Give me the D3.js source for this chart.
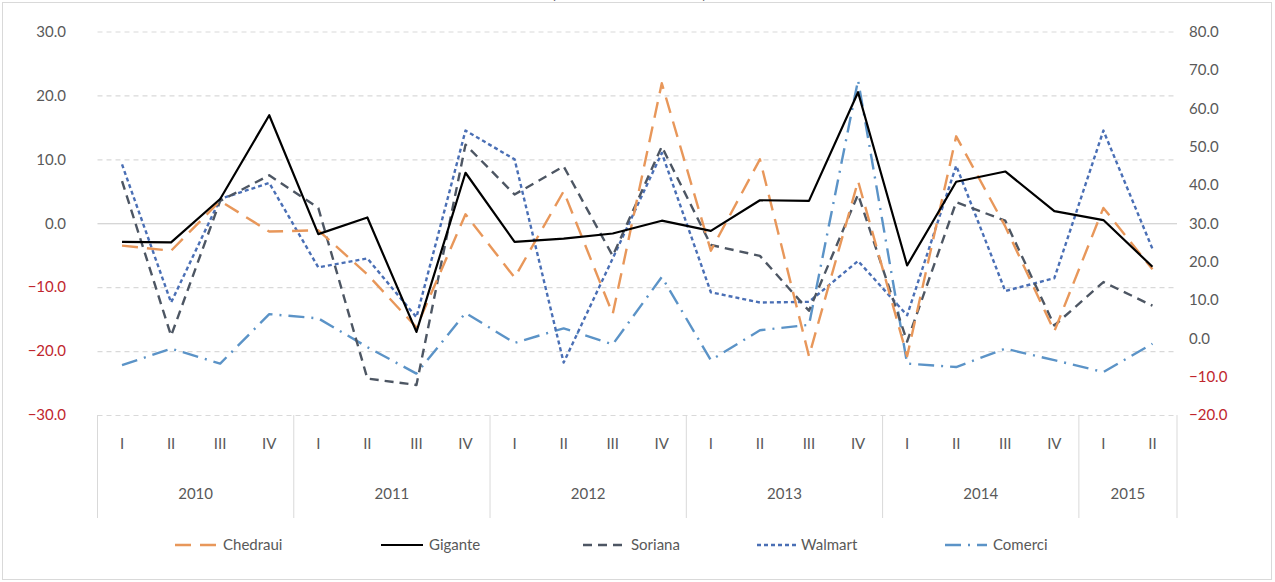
<!DOCTYPE html>
<html>
<head>
<meta charset="utf-8">
<style>
body { margin: 0; background: #fff; }
text { font-family: Lato, "Open Sans", sans-serif; }
</style>
</head>
<body>
<script src="https://cdn.jsdelivr.net/npm/d3@7"></script>
<script>

// data
var years = ["2010", "2011", "2012", "2013", "2014", "2015"];
var quartersPerYear = [4, 4, 4, 4, 4, 2];
var romans = ["I", "II", "III", "IV"];

var chedraui = [-3.5, -4.3, 3.5, -1.3, -1.1, -8.0, -16.3, 1.4, -8.5, 5.0, -14.2, 21.9, -4.3, 10.0, -20.8, 6.6, -20.8, 13.6, -0.5, -16.9, 2.4, -7.2];
var gigante  = [-2.9, -3.0, 3.8, 16.9, -1.7, 0.9, -17.0, 7.9, -2.9, -2.4, -1.6, 0.4, -1.2, 3.6, 3.5, 20.5, -6.6, 6.5, 8.1, 1.9, 0.5, -6.8];
var soriana  = [6.6, -17.6, 3.5, 7.5, 2.4, -24.3, -25.3, 12.3, 4.5, 8.9, -5.1, 12.0, -3.4, -5.1, -13.7, 4.5, -18.5, 3.3, 0.4, -16.0, -9.2, -12.9];
var walmart  = [9.2, -12.4, 3.8, 6.3, -6.9, -5.5, -14.7, 14.5, 10.0, -21.8, -5.5, 11.0, -10.8, -12.4, -12.3, -5.9, -14.4, 9.0, -10.6, -8.6, 14.5, -4.0];
// Comerci is plotted against the right-hand axis
var comerci  = [-7.0, -2.7, -6.6, 6.3, 5.2, -2.3, -9.2, 6.6, -1.2, 2.6, -1.6, 16.0, -5.7, 2.1, 3.5, 67.3, -6.6, -7.5, -2.7, -5.7, -8.8, -1.4];

var leftTicks = [-30, -20, -10, 0, 10, 20, 30];
var rightTicks = [-20, -10, 0, 10, 20, 30, 40, 50, 60, 70, 80];

var width = 1275, height = 582;
var plot = {left: 97.5, right: 1177, top: 31.5, bottom: 415};

// build the quarter keys
var cats = [];
years.forEach(function(y, i) {
  for (var q = 0; q < quartersPerYear[i]; q++) cats.push({year: y, q: romans[q], key: y + "-" + romans[q]});
});

var svg = d3.select("body").append("svg")
    .attr("width", width)
    .attr("height", height);

svg.append("rect")
    .attr("x", 2.5).attr("y", 2.5)
    .attr("width", 1269).attr("height", 577)
    .attr("fill", "#fff")
    .attr("stroke", "#d9d9d9");

// title, clipped by the top of the picture
svg.append("text")
    .attr("x", 629).attr("y", -2)
    .attr("text-anchor", "middle")
    .style("font-size", "19px")
    .style("fill", "#000")
    .text("(Variación % anual)");

var x = d3.scaleBand()
    .domain(cats.map(function(d) { return d.key; }))
    .range([plot.left, plot.right]);
var cx = function(i) { return x(cats[i].key) + x.bandwidth() / 2; };

var yL = d3.scaleLinear().domain([-30, 30]).range([plot.bottom, plot.top]);
var yR = d3.scaleLinear().domain([-20, 80]).range([plot.bottom, plot.top]);

// gridlines
svg.append("g").selectAll("line")
    .data(leftTicks)
    .enter().append("line")
    .attr("x1", plot.left).attr("x2", plot.right)
    .attr("y1", function(d) { return yL(d) + 0.5; })
    .attr("y2", function(d) { return yL(d) + 0.5; })
    .attr("stroke", function(d) { return d == 0 ? "#c8c8c8" : "#d9d9d9"; })
    .attr("stroke-width", 1.2)
    .attr("stroke-dasharray", function(d) { return d == 0 ? null : "5,4"; });

// axis labels
var fmt = d3.format(".1f");
var axL = svg.append("g")
    .attr("transform", "translate(66,0)")
    .call(d3.axisLeft(yL).tickValues(leftTicks).tickFormat(fmt).tickSize(0).tickPadding(0));
var axR = svg.append("g")
    .attr("transform", "translate(1189,0)")
    .call(d3.axisRight(yR).tickValues(rightTicks).tickFormat(fmt).tickSize(0).tickPadding(0));
[axL, axR].forEach(function(ax) {
  ax.select(".domain").remove();
  ax.selectAll("text")
      .style("font-size", "15px")
      .style("font-family", "Lato, sans-serif")
      .attr("fill", function(d) { return d < 0 ? "#c0262d" : "#595959"; });
});

// category axis: quarter labels, year labels, separators
var xa = svg.append("g");
xa.selectAll("text.q")
    .data(cats)
    .enter().append("text")
    .attr("class", "q")
    .attr("x", function(d, i) { return cx(i); })
    .attr("y", 449)
    .attr("text-anchor", "middle")
    .style("font-size", "15px")
    .style("fill", "#595959")
    .text(function(d) { return d.q; });

var bounds = [0];
quartersPerYear.forEach(function(n, i) { bounds.push(bounds[i] + n); });

xa.selectAll("line.sep")
    .data(bounds)
    .enter().append("line")
    .attr("class", "sep")
    .attr("x1", function(b) { return b < cats.length ? x(cats[b].key) : plot.right; })
    .attr("x2", function(b) { return b < cats.length ? x(cats[b].key) : plot.right; })
    .attr("y1", plot.bottom)
    .attr("y2", 518)
    .attr("stroke", "#d9d9d9")
    .attr("stroke-width", 1);

xa.selectAll("text.yr")
    .data(years)
    .enter().append("text")
    .attr("class", "yr")
    .attr("x", function(d, i) {
      var a = x(cats[bounds[i]].key);
      var b = bounds[i + 1] < cats.length ? x(cats[bounds[i + 1]].key) : plot.right;
      return (a + b) / 2;
    })
    .attr("y", 499)
    .attr("text-anchor", "middle")
    .style("font-size", "15px")
    .style("fill", "#595959")
    .text(function(d) { return d; });

// series
var series = [
  {name: "Chedraui", values: chedraui, y: yL, color: "#e8975a", dash: "16,9", w: 2.4},
  {name: "Gigante",  values: gigante,  y: yL, color: "#000000", dash: null, w: 2.2},
  {name: "Soriana",  values: soriana,  y: yL, color: "#4d5663", dash: "9,6", w: 2.4},
  {name: "Walmart",  values: walmart,  y: yL, color: "#4a6fb5", dash: "4,3", w: 2.4},
  {name: "Comerci",  values: comerci,  y: yR, color: "#5b93c7", dash: "16,7,2,7", w: 2.4}
];

var drawOrder = [4, 3, 2, 0, 1];
drawOrder.forEach(function(k) {
  var s = series[k];
  var line = d3.line()
      .x(function(d, i) { return cx(i); })
      .y(function(d) { return s.y(d); });
  svg.append("path")
      .datum(s.values)
      .attr("d", line)
      .attr("fill", "none")
      .attr("stroke", s.color)
      .attr("stroke-width", s.w)
      .attr("stroke-dasharray", s.dash)
      .attr("stroke-linejoin", "round");
});

// legend
var legendX = [175, 381, 583, 757, 945];
var lg = svg.append("g").selectAll("g")
    .data(series)
    .enter().append("g")
    .attr("transform", function(d, i) { return "translate(" + legendX[i] + ",545)"; });
lg.append("line")
    .attr("x1", 0).attr("x2", 42)
    .attr("y1", 0).attr("y2", 0)
    .attr("stroke", function(d) { return d.color; })
    .attr("stroke-width", function(d) { return d.w; })
    .attr("stroke-dasharray", function(d) { return d.dash; });
lg.append("text")
    .attr("x", function(d) { return d.name == "Walmart" ? 44 : 48; })
    .attr("y", 5)
    .style("font-size", "15px")
    .style("fill", "#595959")
    .text(function(d) { return d.name; });

</script>
</body>
</html>
